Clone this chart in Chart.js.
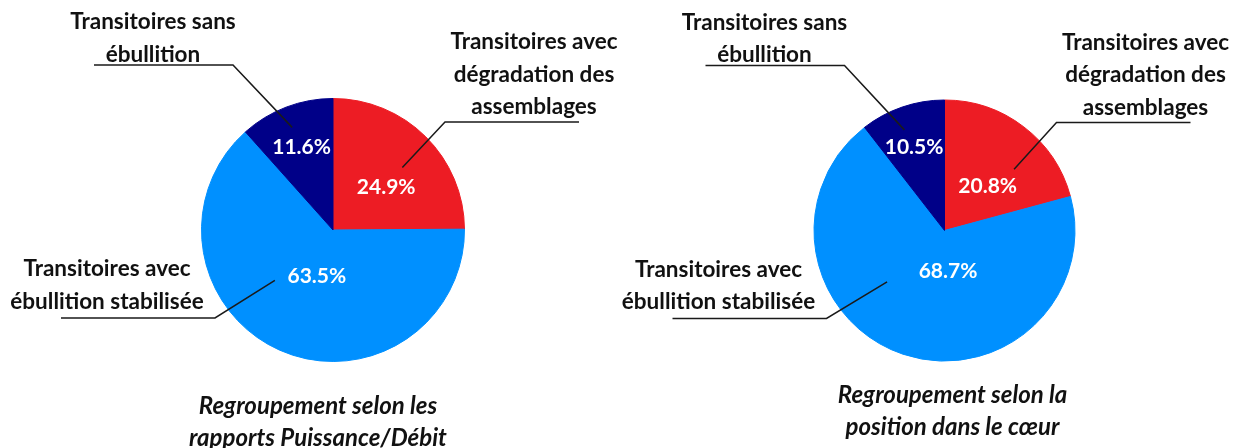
<!DOCTYPE html>
<html>
<head>
<meta charset="utf-8">
<title>Regroupement des transitoires</title>
<script src="https://cdn.jsdelivr.net/npm/chart.js"></script>
<style>
    body {
        margin: 0;
        background-color: #ffffff;
    }

    .wrap {
        position: relative;
        width: 1235px;
        height: 448px;
    }

    canvas {
        position: absolute;
        top: 0;
    }
</style>
</head>
<body>
<div class="wrap">
    <canvas id="pieLeft" width="617" height="448" style="left:0"></canvas>
    <canvas id="pieRight" width="618" height="448" style="left:617px"></canvas>
</div>

<script>
    var categories = ['Transitoires avec dégradation des assemblages',
                      'Transitoires avec ébullition stabilisée',
                      'Transitoires sans ébullition'];
    var categoryLines = [['Transitoires avec', 'dégradation des', 'assemblages'],
                         ['Transitoires avec', 'ébullition stabilisée'],
                         ['Transitoires sans', 'ébullition']];
    var valuesPuissanceDebit = [24.9, 63.5, 11.6];
    var valuesPositionCoeur = [20.8, 68.7, 10.5];
    var captionPuissanceDebit = ['Regroupement selon les', 'rapports Puissance/Débit'];
    var captionPositionCoeur = ['Regroupement selon la', 'position dans le cœur'];

    var sliceColors = ['#ED1C24', '#0090FF', '#000088'];

    // name blocks relative to the pie centre: text centre x, first line y,
    // underline y, underline ends (elbow first, then free end)
    var nameLayout = [
        { x: 201, y: -188, lineY: -108, elbow: 112, end: 246 },
        { x: -226, y: 39, lineY: 88, elbow: -118, end: -272 },
        { x: -180, y: -208, lineY: -165, elbow: -100, end: -239 }
    ];
    var lineHeight = 32.5;

    // Draws the percentage inside each slice, the leader lines and the names
    var calloutPlugin = {
        id: 'callouts',
        afterDatasetsDraw: function(chart, args, opts) {
            var ctx = chart.ctx;
            var arcs = chart.getDatasetMeta(0).data;
            var values = chart.data.datasets[0].data;
            var cx = arcs[0].x, cy = arcs[0].y, R = arcs[0].outerRadius;

            function onArc(arc, pos) {
                var a = arc.startAngle + pos[0] * (arc.endAngle - arc.startAngle);
                return [cx + Math.cos(a) * R * pos[1], cy + Math.sin(a) * R * pos[1]];
            }

            ctx.save();
            ctx.textAlign = 'center';
            ctx.textBaseline = 'middle';

            // leader lines
            ctx.strokeStyle = '#1a1a1a';
            ctx.lineWidth = 1.5;
            arcs.forEach(function(arc, i) {
                var L = nameLayout[i];
                var p = onArc(arc, opts.anchorPos[i]);
                ctx.beginPath();
                ctx.moveTo(p[0], p[1]);
                ctx.lineTo(cx + L.elbow, cy + L.lineY);
                ctx.lineTo(cx + L.end, cy + L.lineY);
                ctx.stroke();
            });

            // names
            ctx.fillStyle = '#111111';
            ctx.font = 'bold 22.5px Lato';
            categoryLines.forEach(function(lines, i) {
                var L = nameLayout[i];
                lines.forEach(function(txt, k) {
                    ctx.fillText(txt, cx + L.x, cy + L.y + k * lineHeight);
                });
            });

            // percentages
            ctx.fillStyle = '#ffffff';
            ctx.font = 'bold 21px Lato';
            arcs.forEach(function(arc, i) {
                var p = onArc(arc, opts.valuePos[i]);
                ctx.fillText(values[i].toFixed(1) + '%', p[0], p[1]);
            });

            // caption under the pie
            ctx.fillStyle = '#111111';
            ctx.font = 'italic bold 24px Lato';
            opts.caption.forEach(function(txt, k) {
                ctx.fillText(txt, cx + opts.captionX, cy + opts.captionY + k * lineHeight);
            });
            ctx.restore();
        }
    };

    function makePie(canvasId, values, caption, geo) {
        var ctx = document.getElementById(canvasId).getContext('2d');
        var w = ctx.canvas.width, h = ctx.canvas.height;
        return new Chart(ctx, {
            type: 'pie',
            data: {
                labels: categories,
                datasets: [{
                    data: values,
                    backgroundColor: sliceColors,
                    borderColor: sliceColors,
                    borderWidth: 1
                }]
            },
            options: {
                responsive: false,
                animation: false,
                layout: {
                    padding: {
                        left: geo.cx - geo.r,
                        right: w - geo.cx - geo.r,
                        top: geo.cy - geo.r,
                        bottom: h - geo.cy - geo.r
                    }
                },
                plugins: {
                    legend: { display: false },
                    tooltip: { enabled: false },
                    callouts: {
                        valuePos: geo.valuePos,
                        anchorPos: geo.anchorPos,
                        caption: caption,
                        captionX: geo.captionX,
                        captionY: geo.captionY
                    }
                }
            },
            plugins: [calloutPlugin]
        });
    }

    makePie('pieLeft', valuesPuissanceDebit, captionPuissanceDebit, {
        cx: 333, cy: 230, r: 132,
        valuePos: [[0.57, 0.52], [0.48, 0.37], [0.50, 0.67]],
        anchorPos: [[0.535, 0.71], [0.61, 0.585], [0.48, 0.84]],
        captionX: -15, captionY: 176
    });

    makePie('pieRight', valuesPositionCoeur, captionPositionCoeur, {
        cx: 327.5, cy: 230.5, r: 131,
        valuePos: [[0.59, 0.475], [0.405, 0.31], [0.47, 0.68]],
        anchorPos: [[0.65, 0.71], [0.62, 0.59], [0.425, 0.83]],
        captionX: 8, captionY: 164.5
    });
</script>
</body>
</html>
